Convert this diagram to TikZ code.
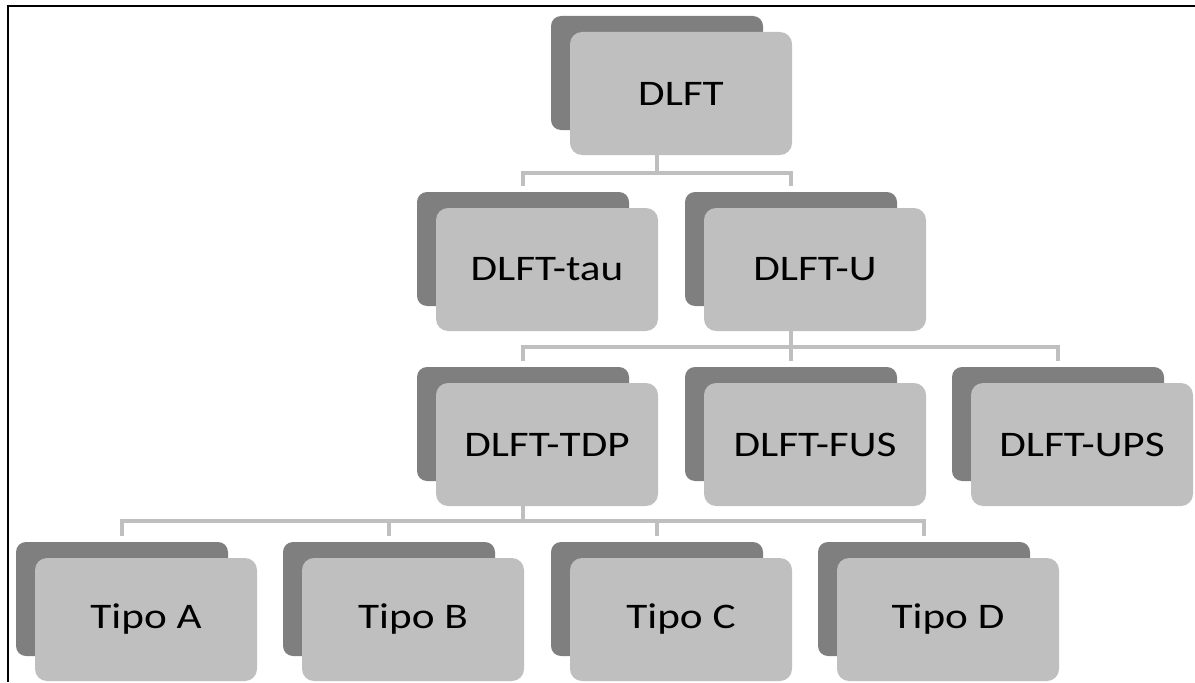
\documentclass[tikz,border=0pt]{standalone}
\usepackage{fontspec}
\newfontfamily\boxfont{Carlito}[FakeStretch=1.2]
\usepackage{xcolor}
\usepackage{tikz}
\usetikzlibrary{calc}

\definecolor{shadowgray}{HTML}{7F7F7F}
\definecolor{boxgray}{HTML}{BFBFBF}

\begin{document}
\begin{tikzpicture}[x=0.5pt, y=0.5pt,
  back/.style={rectangle, rounded corners=5pt, fill=shadowgray, minimum width=106pt, minimum height=57pt, inner sep=0pt},
  front/.style={rectangle, rounded corners=6pt, fill=boxgray, minimum width=111pt, minimum height=61.5pt, inner sep=0pt, font=\boxfont\fontsize{18}{22}\selectfont},
  link/.style={draw=boxgray, line width=2pt, shorten >=3pt}
]
\useasboundingbox (0,0) rectangle (1195,682);

% Frame (top and left only)
\draw[line width=1pt] (8,0) -- (8,676) -- (1195,676);

% Bus heights
\coordinate (bus1) at (0,509);
\coordinate (bus2) at (0,335);
\coordinate (bus3) at (0,161);

% Level 1: DLFT
\node[back] (dlftB) at (657,609) {};
\node[front] (dlft) at (681,588.5) {DLFT};

% Level 2: tau / U
\node[back] (tauB) at (523,433) {};
\node[front] (tau) at (547,412.5) {DLFT-tau};
\node[back] (uB) at (791,433) {};
\node[front] (u) at (815,412.5) {DLFT-U};

% Level 3: TDP / FUS / UPS
\node[back] (tdpB) at (523,258) {};
\node[front] (tdp) at (547,237.5) {DLFT-TDP};
\node[back] (fusB) at (791,258) {};
\node[front] (fus) at (815,237.5) {DLFT-FUS};
\node[back] (upsB) at (1058,258) {};
\node[front] (ups) at (1082,237.5) {DLFT-UPS};

% Level 4: Tipo A-D
\node[back] (tipoaB) at (122,83) {};
\node[front] (tipoa) at (146,62.5) {Tipo A};
\node[back] (tipobB) at (389,83) {};
\node[front] (tipob) at (413,62.5) {Tipo B};
\node[back] (tipocB) at (657,83) {};
\node[front] (tipoc) at (681,62.5) {Tipo C};
\node[back] (tipodB) at (924,83) {};
\node[front] (tipod) at (948,62.5) {Tipo D};

% Connectors
\draw[link] (dlftB |- dlft.south) -- (dlftB |- bus1) -| (tauB.north);
\draw[link] (dlftB |- dlft.south) -- (dlftB |- bus1) -| (uB.north);

\draw[link] (uB |- u.south) -- (uB |- bus2) -| (tdpB.north);
\draw[link] (uB |- u.south) -- (uB |- bus2) -| (fusB.north);
\draw[link] (uB |- u.south) -- (uB |- bus2) -| (upsB.north);

\draw[link] (tdpB |- tdp.south) -- (tdpB |- bus3) -| (tipoaB.north);
\draw[link] (tdpB |- tdp.south) -- (tdpB |- bus3) -| (tipobB.north);
\draw[link] (tdpB |- tdp.south) -- (tdpB |- bus3) -| (tipocB.north);
\draw[link] (tdpB |- tdp.south) -- (tdpB |- bus3) -| (tipodB.north);

\end{tikzpicture}
\end{document}
